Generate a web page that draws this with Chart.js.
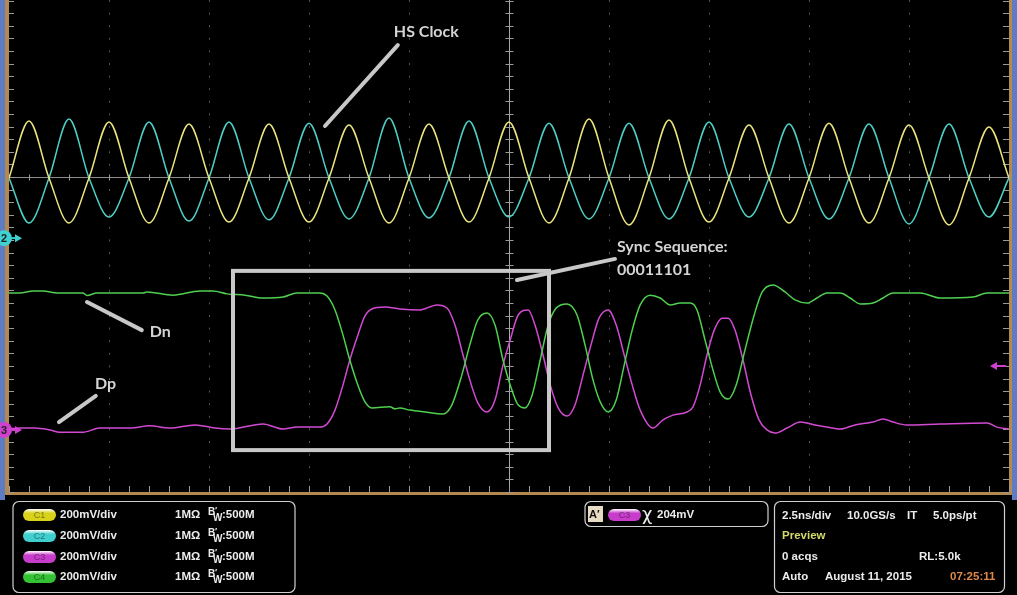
<!DOCTYPE html>
<html><head><meta charset="utf-8">
<script src="https://cdn.jsdelivr.net/npm/chart.js@4/dist/chart.umd.min.js"></script>
<style>html,body{margin:0;padding:0;background:#000;overflow:hidden}#wrap{width:1017px;height:595px}</style>
</head><body><div id="wrap"><canvas id="c" width="1017" height="595"></canvas></div>
<script>
// ---------- data (time in ns, amplitude in mV relative to screen centre) ----------
const clockTime = [-12.5,-12,-11.5,-11,-10.5,-10,-9.5,-9,-8.5,-8,-7.5,-7,-6.5,-6,-5.5,-5,-4.5,-4,-3.5,-3,-2.5,-2,-1.5,-1,-0.5,0,0.5,1,1.5,2,2.5,3,3.5,4,4.5,5,5.5,6,6.5,7,7.5,8,8.5,9,9.5,10,10.5,11,11.5,12,12.5];
const clk1Values = [197,378,197,54,197,375,197,54,197,368,197,57,197,368,197,57,197,365,197,54,197,368,197,57,197,375,197,54,197,384,197,48,197,381,197,57,197,365,197,54,197,371,197,54,197,365,197,48,197,359,197];
const clk2Values = [197,54,197,384,197,73,197,375,197,60,197,375,197,64,197,371,197,67,197,387,197,70,197,378,197,73,197,371,197,67,197,371,197,67,197,375,197,73,197,368,197,67,197,368,197,51,197,368,197,73,197];
const dnTime = [-12.5,-12.23,-11.9,-11.65,-11.3,-10.65,-10.55,-10.3,-9.15,-9.05,-8.4,-7.73,-7.4,-7.05,-6.6,-6.15,-5.65,-5.3,-4.73,-4.55,-4.35,-4.15,-3.98,-3.78,-3.6,-3.43,-2.98,-2.85,-2.73,-2.48,-2.1,-1.65,-1.43,-1.18,-0.98,-0.78,-0.55,-0.35,-0.15,0.03,0.23,0.4,0.58,0.78,0.98,1.18,1.45,1.7,1.9,2.1,2.28,2.48,2.68,2.88,3.08,3.28,3.53,3.78,4.03,4.28,4.53,4.7,4.9,5.1,5.28,5.48,5.68,5.9,6.13,6.33,6.6,6.9,7.15,7.45,7.7,7.95,8.28,8.53,8.78,9.1,9.35,9.6,10.28,10.78,11.6,11.95,12.5];
const dnValues = [-168,-168,-162,-162,-168,-168,-176,-168,-168,-165,-175,-162,-162,-171,-175,-184,-181,-168,-168,-178,-222,-302,-381,-460,-514,-533,-529,-536,-533,-540,-546,-552,-524,-429,-333,-254,-232,-270,-381,-460,-524,-533,-492,-381,-270,-216,-203,-238,-333,-444,-514,-546,-508,-397,-286,-206,-175,-184,-206,-200,-200,-222,-317,-413,-483,-505,-460,-349,-238,-165,-143,-165,-190,-200,-184,-168,-168,-184,-203,-200,-184,-168,-168,-184,-181,-168,-168];
const dpTime = [-12.5,-12.23,-11.85,-11.48,-11.23,-10.65,-10.23,-9.48,-8.98,-8.48,-7.85,-7.35,-6.98,-6.15,-5.65,-5.3,-4.73,-4.55,-4.35,-4.15,-3.98,-3.78,-3.6,-3.43,-3.1,-2.73,-2.23,-1.8,-1.55,-1.35,-1.15,-0.98,-0.78,-0.55,-0.35,-0.15,0.03,0.23,0.48,0.65,0.85,1.03,1.23,1.45,1.65,1.85,2.05,2.25,2.48,2.68,2.88,3.08,3.28,3.6,3.85,4.1,4.45,4.6,4.78,4.95,5.13,5.33,5.48,5.65,5.85,6.05,6.25,6.45,6.65,6.95,7.28,7.65,7.95,8.28,8.65,9.1,9.35,9.6,9.95,10.78,11.95,12.2,12.5];
const dpValues = [-600,-597,-597,-603,-610,-610,-597,-597,-590,-597,-587,-597,-600,-584,-600,-594,-594,-584,-540,-460,-381,-302,-241,-219,-213,-219,-222,-206,-216,-270,-365,-444,-517,-546,-508,-397,-317,-238,-222,-270,-365,-460,-533,-559,-524,-429,-333,-248,-222,-270,-365,-460,-540,-597,-571,-556,-546,-530,-460,-365,-286,-248,-248,-286,-381,-492,-571,-603,-613,-597,-578,-587,-594,-600,-587,-578,-568,-578,-587,-584,-581,-594,-600];

// axis ranges (ns / mV)
const timeRange = [-12.5, 12.5];
const voltRange = [-800, 762];
const timePerDiv = 2.5;
const voltPerDiv = 200;

// annotations (data coordinates)
const annotationBox = {t1:-6.9, t2:1.0, v1:-98, v2:-667};
const annotationLabels = [
  {text:'HS Clock', t:-2.88, v:660, lineFrom:[-4.6,362], lineTo:[-2.78,619]},
  {text:'Sync Sequence:', t:2.7, v:-22, lineFrom:[0.2,-127], lineTo:[2.65,-60]},
  {text:'00011101', t:2.7, v:-95},
  {text:'Dn', t:-8.98, v:-292, lineFrom:[-10.55,-197], lineTo:[-9.18,-286]},
  {text:'Dp', t:-10.35, v:-457, lineFrom:[-11.25,-578], lineTo:[-10.33,-495]}
];

// readout panel text
const channelNames = ['C1','C2','C3','C4'];
const channelColors = ['#d9d21c','#3fcfcf','#c83ccc','#33c233'];
const channelScale = ['200mV/div','200mV/div','200mV/div','200mV/div'];
const channelImp = ['1MΩ','1MΩ','1MΩ','1MΩ'];
const channelBw = [':500M',':500M',':500M',':500M'];
const triggerLevel = '204mV';
const timebaseRow = ['2.5ns/div','10.0GS/s','IT','5.0ps/pt'];
const statusRows = ['Preview','0 acqs','RL:5.0k','Auto','August 11, 2015','07:25:11'];

const pts = (ts, vs) => ts.map((t,i)=>({x:t,y:vs[i]}));

function rr(ctx,x,y,w,h,r){ctx.beginPath();ctx.moveTo(x+r,y);ctx.lineTo(x+w-r,y);ctx.arcTo(x+w,y,x+w,y+r,r);ctx.lineTo(x+w,y+h-r);ctx.arcTo(x+w,y+h,x+w-r,y+h,r);ctx.lineTo(x+r,y+h);ctx.arcTo(x,y+h,x,y+h-r,r);ctx.lineTo(x,y+r);ctx.arcTo(x,y,x+r,y,r);ctx.closePath();}
function seg(ctx,x1,y1,x2,y2){ctx.beginPath();ctx.moveTo(x1,y1);ctx.lineTo(x2,y2);ctx.stroke();}
function pill(ctx,x,y,w,h,color,label){
  const g=ctx.createLinearGradient(0,y,0,y+h);
  g.addColorStop(0,'#ffffff');g.addColorStop(0.35,color);g.addColorStop(1,color);
  rr(ctx,x,y,w,h,h/2);ctx.fillStyle=g;ctx.fill();
  ctx.fillStyle='rgba(0,0,0,0.45)';ctx.font='9px "Liberation Sans"';ctx.textAlign='center';ctx.textBaseline='middle';
  ctx.fillText(label,x+w/2,y+h/2+1);ctx.textAlign='left';
}

const scopePlugin = {
  id:'scope',
  beforeDraw(chart){
    const {ctx,width,height}=chart; const a=chart.chartArea;
    ctx.save();
    ctx.fillStyle='#000';ctx.fillRect(0,0,width,height);
    ctx.fillStyle='#5d7cc4';
    ctx.fillRect(0,0,a.left-4,a.bottom+8);
    ctx.fillRect(a.right+3,0,width-a.right-3,a.bottom+8);
    ctx.fillStyle='#b4894f';
    ctx.fillRect(a.left-4,0,4,a.bottom+3);
    ctx.fillRect(a.right,0,3,a.bottom+3);
    ctx.fillRect(a.left-4,a.bottom,a.right-a.left+7,3);
    ctx.restore();
  },
  beforeDatasetsDraw(chart){
    const {ctx}=chart; const a=chart.chartArea; const xs=chart.scales.x, ys=chart.scales.y;
    ctx.save();
    const cx=Math.round(xs.getPixelForValue(0))+0.5;
    const cy=Math.round(ys.getPixelForValue(voltPerDiv))+0.5;
    ctx.lineWidth=1;
    ctx.strokeStyle='#a8a8a8';
    seg(ctx,cx,a.top,cx,a.bottom);
    ctx.strokeStyle='#8c8c8c';
    seg(ctx,a.left,cy,a.right,cy);
    ctx.strokeStyle='#9a9a9a';
    for(let v=voltRange[0]; v<=voltRange[1]; v+=voltPerDiv/5){
      const y=Math.round(ys.getPixelForValue(v))+0.5;
      seg(ctx,cx-4,y,cx+4,y);
      seg(ctx,a.left,y,a.left+5,y);
      seg(ctx,a.right-6,y,a.right,y);
    }
    for(let t=timeRange[0]; t<=timeRange[1]+1e-9; t+=timePerDiv/5){
      const x=Math.round(xs.getPixelForValue(t))+0.5;
      seg(ctx,x,cy-3,x,cy+3);
      seg(ctx,x,a.bottom-6,x,a.bottom);
    }
    ctx.restore();
  },
  afterDatasetsDraw(chart){
    const {ctx}=chart; const xs=chart.scales.x, ys=chart.scales.y;
    const X=t=>xs.getPixelForValue(t), Y=v=>ys.getPixelForValue(v);
    ctx.save();
    ctx.strokeStyle='#c8c8c8';ctx.lineWidth=4;
    const b=annotationBox;
    ctx.strokeRect(X(b.t1),Y(b.v1),X(b.t2)-X(b.t1),Y(b.v2)-Y(b.v1));
    ctx.lineCap='round';
    ctx.font='bold 16px Lato';ctx.textBaseline='middle';ctx.fillStyle='#d4d4d4';
    annotationLabels.forEach(l=>{
      if(l.lineFrom){seg(ctx,X(l.lineFrom[0]),Y(l.lineFrom[1]),X(l.lineTo[0]),Y(l.lineTo[1]));}
      ctx.fillText(l.text,X(l.t),Y(l.v));
    });
    ctx.restore();
    // channel markers
    ctx.save();
    const drawMarker=(v,color,label)=>{
      const y=Y(v);
      ctx.fillStyle=color;ctx.beginPath();ctx.arc(4,y,8,0,Math.PI*2);ctx.fill();
      ctx.strokeStyle=color;ctx.lineWidth=2;seg(ctx,12,y,17,y);
      ctx.beginPath();ctx.moveTo(22,y);ctx.lineTo(15,y-4);ctx.lineTo(15,y+4);ctx.closePath();ctx.fill();
      ctx.fillStyle='#222';ctx.font='bold 11px "Liberation Sans"';ctx.textAlign='center';ctx.textBaseline='middle';
      ctx.fillText(label,4,y+1);
    };
    drawMarker(6,'#3fd0d0','2');
    drawMarker(-603,'#d040d0','3');
    const ty=Y(-400); const ra=chart.chartArea.right;
    ctx.fillStyle='#d040d0';ctx.strokeStyle='#d040d0';ctx.lineWidth=2;
    ctx.beginPath();ctx.moveTo(ra-19,ty);ctx.lineTo(ra-12,ty-4);ctx.lineTo(ra-12,ty+4);ctx.closePath();ctx.fill();
    seg(ctx,ra-13,ty,ra-3,ty);
    ctx.restore();
  },
  afterDraw(chart){
    const {ctx}=chart;
    ctx.save();
    ctx.strokeStyle='#d0d0d0';ctx.lineWidth=1.2;
    rr(ctx,13,501.5,282,91,6);ctx.stroke();
    rr(ctx,585,501.5,183,25,6);ctx.stroke();
    rr(ctx,774.5,501.5,230,91,6);ctx.stroke();
    ctx.textBaseline='middle';
    const rows=[515,536,557,577];
    channelNames.forEach((n,i)=>{
      const y=rows[i];
      pill(ctx,23,y-6,33,12,channelColors[i],n);
      ctx.fillStyle='#ececec';ctx.font='bold 11.5px "Liberation Sans"';
      ctx.fillText(channelScale[i],60,y);
      ctx.fillText(channelImp[i],175,y);
      ctx.font='bold 10px "Liberation Sans"';ctx.fillText('B',208,y-3);
      ctx.fillText('W',213,y+3);
      ctx.font='bold 9px "Liberation Sans"';ctx.fillText('\u2032',215,y-4);
      ctx.font='bold 11.5px "Liberation Sans"';ctx.fillText(channelBw[i],222,y);
    });
    // trigger box
    ctx.fillStyle='#e6dcc4';ctx.fillRect(588,506,15,16);
    ctx.fillStyle='#111';ctx.font='bold 11px "Liberation Sans"';ctx.fillText('A\u2032',589,514.5);
    pill(ctx,608,509,33,12,channelColors[2],'C3');
    ctx.fillStyle='#ececec';ctx.font='18px "DejaVu Sans"';ctx.fillText('\u03C7',642,515);
    ctx.font='bold 11.5px "Liberation Sans"';ctx.fillText(triggerLevel,657,515);
    // timebase box
    ctx.fillStyle='#ececec';
    ctx.fillText(timebaseRow[0],782,516);
    ctx.fillText(timebaseRow[1],847,516);
    ctx.fillText(timebaseRow[2],907,516);
    ctx.fillText(timebaseRow[3],933,516);
    ctx.fillStyle='#d2da6c';ctx.fillText(statusRows[0],782,536);
    ctx.fillStyle='#ececec';
    ctx.fillText(statusRows[1],782,557);
    ctx.fillText(statusRows[2],919,557);
    ctx.fillText(statusRows[3],782,577);
    ctx.fillText(statusRows[4],825,577);
    ctx.fillStyle='#e0884a';ctx.fillText(statusRows[5],950,577);
    ctx.restore();
  }
};

const lineDs = (label,data,color)=>({label,data,borderColor:color,borderWidth:1.5,pointRadius:0,cubicInterpolationMode:'monotone',fill:false});

new Chart(document.getElementById('c'),{
  type:'line',
  data:{datasets:[
    lineDs('Dn (C4)',pts(dnTime,dnValues),'#4fd04f'),
    lineDs('Dp (C3)',pts(dpTime,dpValues),'#d24ad2'),
    lineDs('HS Clock C1',pts(clockTime,clk1Values),'#ece57e'),
    lineDs('HS Clock C2',pts(clockTime,clk2Values),'#4fcfc4')
  ]},
  options:{
    responsive:false,animation:false,
    layout:{padding:{left:9,right:8,top:0,bottom:103}},
    plugins:{legend:{display:false},tooltip:{enabled:false}},
    scales:{
      x:{type:'linear',min:timeRange[0],max:timeRange[1],
         ticks:{display:false,stepSize:timePerDiv},
         grid:{drawTicks:false,lineWidth:1,color:c=>{const v=c.tick.value;return (Math.abs(v)<1e-9||Math.abs(Math.abs(v)-12.5)<1e-9)?'rgba(0,0,0,0)':'#555555';}},
         border:{display:false,dash:[2,10.6]}},
      y:{type:'linear',min:voltRange[0],max:voltRange[1],
         ticks:{display:false,stepSize:voltPerDiv},
         grid:{drawTicks:false,lineWidth:1,color:c=>{const v=c.tick.value;return (v%200!==0||v===200||v===-800)?'rgba(0,0,0,0)':'#555555';}},
         border:{display:false,dash:[2,18]}}
    }
  },
  plugins:[scopePlugin]
});
</script></body></html>
